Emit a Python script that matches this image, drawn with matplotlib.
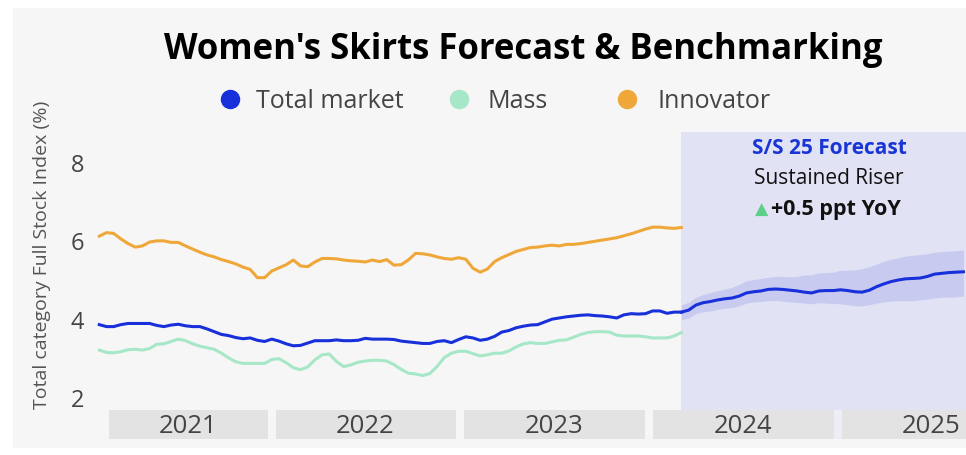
import matplotlib
matplotlib.use("Agg")
import matplotlib.pyplot as plt
import matplotlib.dates as mdates
from matplotlib.patches import Rectangle
from matplotlib.lines import Line2D
import matplotlib.transforms as mtransforms
import pandas as pd

# ---------------- data ----------------
hist_start, hist_end = "2021-02-01", "2024-03-04"
fc_start, fc_end = "2024-03-04", "2025-09-01"

total_market = [
    3.85, 3.80, 3.80, 3.85, 3.88, 3.88, 3.88, 3.88, 3.83, 3.80,
    3.84, 3.86, 3.82, 3.80, 3.80, 3.74, 3.67, 3.60, 3.57, 3.52,
    3.49, 3.51, 3.45, 3.42, 3.48, 3.43, 3.36, 3.31, 3.32, 3.38,
    3.44, 3.44, 3.44, 3.46, 3.44, 3.44, 3.45, 3.50, 3.48, 3.48,
    3.48, 3.47, 3.43, 3.41, 3.39, 3.37, 3.37, 3.42, 3.44, 3.39,
    3.47, 3.54, 3.51, 3.45, 3.48, 3.55, 3.66, 3.70, 3.77, 3.81,
    3.84, 3.85, 3.92, 3.99, 4.02, 4.05, 4.07, 4.09, 4.10, 4.08,
    4.07, 4.05, 4.02, 4.10, 4.13, 4.12, 4.13, 4.20, 4.20, 4.14,
    4.17, 4.17,
]
mass = [
    3.20, 3.14, 3.13, 3.16, 3.21, 3.22, 3.20, 3.24, 3.35, 3.36,
    3.42, 3.48, 3.44, 3.36, 3.30, 3.26, 3.22, 3.12, 3.00, 2.90,
    2.86, 2.86, 2.86, 2.86, 2.96, 2.98, 2.88, 2.75, 2.70, 2.77,
    2.95, 3.08, 3.10, 2.91, 2.78, 2.82, 2.89, 2.92, 2.94, 2.94,
    2.92, 2.83, 2.71, 2.61, 2.59, 2.55, 2.60, 2.78, 3.01, 3.12,
    3.17, 3.17, 3.11, 3.05, 3.08, 3.12, 3.12, 3.18, 3.28, 3.36,
    3.39, 3.37, 3.37, 3.41, 3.45, 3.46, 3.53, 3.60, 3.65, 3.67,
    3.67, 3.66, 3.58, 3.56, 3.56, 3.56, 3.54, 3.51, 3.51, 3.51,
    3.56, 3.65,
]
innovator = [
    6.11, 6.20, 6.18, 6.04, 5.92, 5.83, 5.86, 5.96, 5.99, 5.99,
    5.95, 5.95, 5.86, 5.78, 5.70, 5.63, 5.58, 5.51, 5.46, 5.40,
    5.32, 5.26, 5.05, 5.05, 5.22, 5.30, 5.38, 5.50, 5.35, 5.33,
    5.45, 5.54, 5.54, 5.53, 5.50, 5.48, 5.47, 5.45, 5.50, 5.46,
    5.51, 5.37, 5.38, 5.50, 5.67, 5.66, 5.63, 5.58, 5.54, 5.52,
    5.56, 5.52, 5.29, 5.19, 5.27, 5.46, 5.56, 5.64, 5.72, 5.77,
    5.82, 5.83, 5.86, 5.88, 5.86, 5.90, 5.90, 5.92, 5.95, 5.98,
    6.01, 6.04, 6.07, 6.12, 6.17, 6.23, 6.29, 6.34, 6.34, 6.32,
    6.31, 6.33,
]

forecast = [
    4.17, 4.22, 4.35, 4.41, 4.44, 4.48, 4.51, 4.53, 4.58, 4.66,
    4.69, 4.71, 4.75, 4.76, 4.75, 4.73, 4.71, 4.68, 4.66, 4.71,
    4.72, 4.72, 4.74, 4.72, 4.69, 4.68, 4.73, 4.82, 4.89, 4.95,
    4.99, 5.02, 5.03, 5.04, 5.08, 5.14, 5.16, 5.18, 5.19, 5.20,
]
forecast_upper = [
    4.36, 4.42, 4.55, 4.62, 4.67, 4.72, 4.76, 4.80, 4.88, 4.97,
    5.00, 5.03, 5.06, 5.08, 5.08, 5.07, 5.08, 5.12, 5.12, 5.17,
    5.18, 5.19, 5.24, 5.24, 5.25, 5.28, 5.33, 5.40, 5.47, 5.52,
    5.56, 5.60, 5.62, 5.64, 5.66, 5.70, 5.72, 5.73, 5.74, 5.76,
]
forecast_lower = [
    3.98, 4.02, 4.13, 4.18, 4.20, 4.24, 4.27, 4.29, 4.33, 4.40,
    4.43, 4.44, 4.46, 4.47, 4.45, 4.43, 4.42, 4.40, 4.38, 4.41,
    4.40, 4.39, 4.38, 4.36, 4.33, 4.33, 4.36, 4.40, 4.43, 4.45,
    4.46, 4.46, 4.46, 4.48, 4.50, 4.53, 4.55, 4.55, 4.56, 4.58,
]

years = ["2021", "2022", "2023", "2024", "2025"]
y_ticks = [2, 4, 6, 8]
series_names = ["Total market", "Mass", "Innovator"]

hist_dates = pd.date_range(hist_start, hist_end, periods=len(total_market))
fc_dates = pd.date_range(fc_start, fc_end, periods=len(forecast))

# ---------------- style ----------------
C_TOTAL = "#1730d9"
C_MASS = "#a6e7c7"
C_INNOV = "#f0a73a"
C_FC_BG = "#e1e3f4"
C_FC_BAND = "#c8cbef"
C_CARD = "#f6f6f6"
C_YEARBOX = "#e3e3e3"
FONT = ["Open Sans", "DejaVu Sans"]
plt.rcParams["font.family"] = FONT

W, H = 966, 456
fig = plt.figure(figsize=(W / 100, H / 100), dpi=100)
fig.patch.set_facecolor("white")


def fx(px):
    return px / W


def fy(py):
    return 1 - py / H


# card background
fig.patches.append(Rectangle((fx(13), fy(449)), fx(966 + 20) - fx(13), fy(9) - fy(449),
                             transform=fig.transFigure, facecolor=C_CARD,
                             edgecolor="none", zorder=-5))

ax_left, ax_right, ax_top, ax_bottom = 90, 966, 133, 411
ax = fig.add_axes([fx(ax_left), fy(ax_bottom), fx(ax_right) - fx(ax_left),
                   fy(ax_top) - fy(ax_bottom)])
ax.set_zorder(1)
ax.set_facecolor("none")
for s in ax.spines.values():
    s.set_visible(False)

ax.set_xlim(pd.Timestamp("2021-01-14"), pd.Timestamp("2025-09-06"))
ax.set_ylim(1.67, 8.77)

# forecast shaded region
fc0 = pd.Timestamp(fc_start)
ax.axvspan(fc0, pd.Timestamp("2025-12-31"), color=C_FC_BG, zorder=0, lw=0)
ax.fill_between(fc_dates, forecast_lower, forecast_upper, color=C_FC_BAND,
                lw=0, zorder=1)

ax.plot(hist_dates, innovator, color=C_INNOV, lw=2.2, zorder=3,
        solid_joinstyle="round")
ax.plot(hist_dates, mass, color=C_MASS, lw=2.2, zorder=3,
        solid_joinstyle="round")
ax.plot(hist_dates, total_market, color=C_TOTAL, lw=2.2, zorder=4,
        solid_joinstyle="round")
ax.plot(fc_dates, forecast, color=C_TOTAL, lw=2.2, zorder=4,
        solid_joinstyle="round")

ax.set_xticks([])
ax.set_yticks(y_ticks)
ax.set_yticklabels([str(v) for v in y_ticks], fontsize=17, color="#444444")
ax.tick_params(axis="y", length=0, pad=4)

fig.text(fx(42), fy(255), "Total category Full Stock Index (%)", rotation=90,
         ha="center", va="center", fontsize=14, color="#555555")

# year boxes under the plot
trans = mtransforms.blended_transform_factory(ax.transData, fig.transFigure)
box_y0, box_y1 = fy(440), fy(411)
fig.patches.append(Rectangle((mdates.date2num(fc0), box_y0),
                             mdates.date2num(pd.Timestamp("2025-12-31")) - mdates.date2num(fc0),
                             box_y1 - box_y0, transform=trans, facecolor="#ededf6",
                             edgecolor="none", zorder=1, clip_on=False))
year_spans = {
    "2021": ("2021-02-19", "2021-12-24"),
    "2022": ("2022-01-09", "2022-12-24"),
    "2023": ("2023-01-09", "2023-12-24"),
    "2024": ("2024-01-09", "2024-12-24"),
    "2025": ("2025-01-09", "2025-12-24"),
}
for yr in years:
    a, b = year_spans[yr]
    x0, x1 = mdates.date2num(pd.Timestamp(a)), mdates.date2num(pd.Timestamp(b))
    fig.patches.append(Rectangle((x0, box_y0), x1 - x0, box_y1 - box_y0,
                                 transform=trans, facecolor=C_YEARBOX,
                                 edgecolor="none", zorder=2, clip_on=False))
    xm = mdates.date2num(pd.Timestamp(f"{yr}-07-01"))
    if yr == "2021":
        xm = (x0 + x1) / 2
    fig.text(xm, fy(427), yr, transform=trans, ha="center", va="center",
             fontsize=18.5, color="#444444", zorder=3)

# title
fig.text(fx(523), fy(50), "Women's Skirts Forecast & Benchmarking",
         ha="center", va="center", fontsize=25, fontweight="bold",
         color="black")

# legend
legend_items = [(230, 256, C_TOTAL), (459, 488, C_MASS), (627, 657, C_INNOV)]
for name, (dot_x, txt_x, col) in zip(series_names, legend_items):
    fig.add_artist(Line2D([fx(dot_x)], [fy(100)], marker="o", markersize=13,
                          color=col, linestyle="none",
                          transform=fig.transFigure))
    fig.text(fx(txt_x), fy(101), name, ha="left", va="center",
             fontsize=18, color="#444444")

# forecast callout
fig.text(fx(829), fy(148), "S/S 25 Forecast", ha="center", va="center",
         fontsize=15, fontweight="bold", color="#1a35d6")
fig.text(fx(829), fy(179), "Sustained Riser", ha="center", va="center",
         fontsize=15, color="#111111")
fig.text(fx(762), fy(210), "\u25B2", ha="center", va="center",
         fontsize=12.5, color="#5ccf8a", family=["DejaVu Sans"])
fig.text(fx(771), fy(210), "+0.5 ppt YoY", ha="left", va="center",
         fontsize=15.5, fontweight="bold", color="#111111")

fig.savefig("out.png", dpi=100, facecolor=fig.get_facecolor())
